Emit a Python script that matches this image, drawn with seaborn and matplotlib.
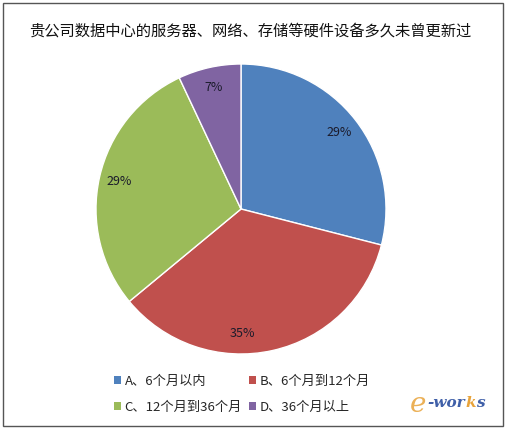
import matplotlib
matplotlib.use("Agg")
import matplotlib.pyplot as plt
import seaborn as sns
import numpy as np
from matplotlib.patches import Rectangle, Patch

sns.set_theme(style="white")
plt.rcParams["font.family"] = ["Noto Sans CJK SC", "DejaVu Sans"]

title = "贵公司数据中心的服务器、网络、存储等硬件设备多久未曾更新过"
categories = ["A、6个月以内", "B、6个月到12个月", "C、12个月到36个月", "D、36个月以上"]
shares = [29, 35, 29, 7]
colors = ["#4F81BD", "#C0504D", "#9BBB59", "#8064A2"]
# label placement tweaks (degrees along the arc) for a best-fit look
label_shift = [0, -12, 0, 0]

fig = plt.figure(figsize=(5.07, 4.30), dpi=100)
fig.patch.set_facecolor("white")

ax = fig.add_axes([96 / 507, 1 - 354 / 430, 290 / 507, 290 / 430])
wedges, _ = ax.pie(
    shares, colors=colors, startangle=90, counterclock=False,
    wedgeprops=dict(edgecolor="white", linewidth=1.0), radius=1.0,
)
ax.set_xlim(-1, 1)
ax.set_ylim(-1, 1)
ax.set_aspect("equal")
ax.axis("off")

for w, v, s in zip(wedges, shares, label_shift):
    mid = np.deg2rad((w.theta1 + w.theta2) / 2 + s)
    r = 0.86
    ax.text(r * np.cos(mid), r * np.sin(mid), f"{v}%", ha="center", va="center",
            fontsize=9, color="#1b1b2b")

fig.text(0.493, 1 - 31 / 430, title, ha="center", va="center", fontsize=11, color="#111111")

handles = [Patch(facecolor=c, edgecolor="none") for c in colors]
order = [0, 2, 1, 3]
fig.legend([handles[i] for i in order], [categories[i] for i in order],
           loc="upper left", bbox_to_anchor=(114 / 507, 1 - 375 / 430), ncol=2,
           frameon=False, fontsize=9.5, handlelength=0.55, handleheight=0.55,
           handletextpad=0.25, columnspacing=0.55, labelspacing=0.95,
           borderaxespad=0, borderpad=0)

# e-works logo: a large "e" followed by the rest of the word, pieces chained end to end
e_mark = fig.text(410 / 507, 1 - 405 / 430, "e", fontsize=20, style="italic",
                  color="#E8A33A", ha="left", va="center", family="DejaVu Serif", alpha=0.85)
word = plt.annotate("-wor", xy=(1, 0.42), xycoords=e_mark, xytext=(0.5, 0),
                    textcoords="offset points", fontsize=11, style="italic",
                    weight="bold", color="#3F5FA8", ha="left", va="baseline",
                    family="DejaVu Serif", annotation_clip=False)
prev = word
for piece, col in [("k", "#E8A33A"), ("s", "#3F5FA8")]:
    prev = plt.annotate(piece, xy=(1, 0), xycoords=(prev, word), xytext=(0.3, 0),
                        textcoords="offset points", fontsize=11, style="italic",
                        weight="bold", color=col, ha="left", va="bottom",
                        family="DejaVu Serif", annotation_clip=False)

fig.add_artist(Rectangle((3 / 507, 4 / 430), 500 / 507, 423 / 430, transform=fig.transFigure,
                         fill=False, edgecolor="#555555", linewidth=1.0))

fig.savefig("out.png", dpi=100)
